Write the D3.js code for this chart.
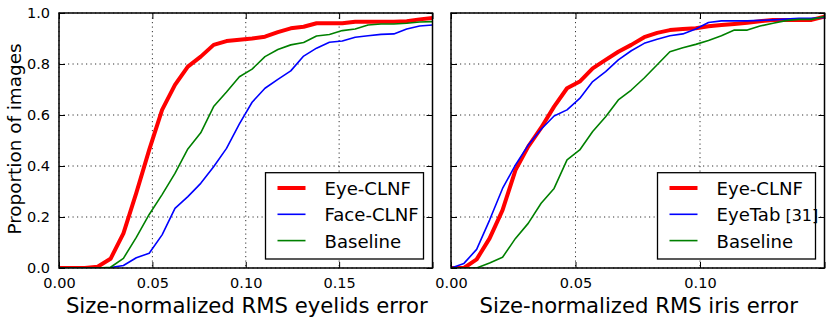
<!DOCTYPE html>
<html><head><meta charset="utf-8">
<script src="https://cdn.jsdelivr.net/npm/d3@7/dist/d3.min.js"></script>
<style>body{margin:0;background:#fff}svg{display:block}text{font-family:"DejaVu Sans",sans-serif}</style>
</head><body>
<svg id="c" width="830" height="323"></svg>
<script>
const yTicks = [0, 0.2, 0.4, 0.6, 0.8, 1.0];
const yTickLabels = ["0.0", "0.2", "0.4", "0.6", "0.8", "1.0"];

// Left panel: eyelids
const eyelidTicks = [0, 0.05, 0.10, 0.15, 0.20];
const eyelidTickLabels = ["0.00", "0.05", "0.10", "0.15", ""];
const eyelidX = [0, 0.0069, 0.0138, 0.0207, 0.0276, 0.0345, 0.0414, 0.0483, 0.0552, 0.0621, 0.0690, 0.0759, 0.0828, 0.0897, 0.0966, 0.1034, 0.1103, 0.1172, 0.1241, 0.1310, 0.1379, 0.1448, 0.1517, 0.1586, 0.1655, 0.1724, 0.1793, 0.1862, 0.1931, 0.2000];
const eyelidEyeCLNF = [0, 0, 0, 0.005, 0.036, 0.136, 0.295, 0.463, 0.62, 0.718, 0.79, 0.829, 0.875, 0.89, 0.895, 0.9, 0.907, 0.925, 0.94, 0.946, 0.96, 0.96, 0.96, 0.966, 0.966, 0.966, 0.966, 0.968, 0.975, 0.98];
const eyelidFaceCLNF = [0, 0, 0, 0, 0.002, 0.01, 0.04, 0.058, 0.13, 0.234, 0.28, 0.332, 0.397, 0.469, 0.565, 0.65, 0.705, 0.74, 0.773, 0.831, 0.862, 0.885, 0.89, 0.905, 0.911, 0.916, 0.918, 0.937, 0.949, 0.953];
const eyelidBaseline = [0, 0, 0, 0, 0.003, 0.038, 0.12, 0.21, 0.288, 0.371, 0.467, 0.53, 0.633, 0.69, 0.75, 0.78, 0.829, 0.857, 0.875, 0.884, 0.91, 0.916, 0.931, 0.937, 0.953, 0.957, 0.957, 0.96, 0.965, 0.966];

// Right panel: iris
const irisTicks = [0, 0.05, 0.10, 0.15];
const irisTickLabels = ["0.00", "0.05", "0.10", ""];
const irisX = [0, 0.0052, 0.0103, 0.0155, 0.0207, 0.0259, 0.0310, 0.0362, 0.0414, 0.0466, 0.0517, 0.0569, 0.0621, 0.0672, 0.0724, 0.0776, 0.0828, 0.0879, 0.0931, 0.0983, 0.1034, 0.1086, 0.1138, 0.1190, 0.1241, 0.1293, 0.1345, 0.1397, 0.1448, 0.1500];
const irisEyeCLNF = [0, 0, 0.034, 0.116, 0.227, 0.384, 0.476, 0.55, 0.633, 0.705, 0.731, 0.783, 0.816, 0.848, 0.875, 0.905, 0.922, 0.933, 0.937, 0.94, 0.948, 0.953, 0.957, 0.962, 0.968, 0.973, 0.973, 0.973, 0.973, 0.986];
const irisEyeTab = [0, 0.018, 0.073, 0.188, 0.312, 0.404, 0.482, 0.544, 0.596, 0.62, 0.665, 0.731, 0.77, 0.816, 0.852, 0.881, 0.897, 0.911, 0.918, 0.937, 0.963, 0.969, 0.969, 0.969, 0.971, 0.973, 0.976, 0.979, 0.979, 0.983];
const irisBaseline = [0, 0, 0, 0.02, 0.042, 0.116, 0.175, 0.254, 0.312, 0.424, 0.463, 0.535, 0.593, 0.659, 0.698, 0.745, 0.797, 0.848, 0.864, 0.877, 0.892, 0.911, 0.933, 0.933, 0.949, 0.96, 0.97, 0.975, 0.975, 0.986];

const svg = d3.select("#c");
const plotTop = 13, plotBottom = 268;

const panels = [
  {x0: 59, x1: 432.5, domain: [0, 0.2], ticks: eyelidTicks, labels: eyelidTickLabels, xs: eyelidX,
   title: "Size-normalized RMS eyelids error", showY: true,
   series: [
     {name: "Eye-CLNF", values: eyelidEyeCLNF, color: "#ff0000", width: 4},
     {name: "Face-CLNF", values: eyelidFaceCLNF, color: "#0000ff", width: 1.6},
     {name: "Baseline", values: eyelidBaseline, color: "#008000", width: 1.6}]},
  {x0: 451, x1: 824.5, domain: [0, 0.15], ticks: irisTicks, labels: irisTickLabels, xs: irisX,
   title: "Size-normalized RMS iris error", showY: false,
   series: [
     {name: "Eye-CLNF", values: irisEyeCLNF, color: "#ff0000", width: 4},
     {name: "EyeTab", ref: "[31]", values: irisEyeTab, color: "#0000ff", width: 1.6},
     {name: "Baseline", values: irisBaseline, color: "#008000", width: 1.6}]}
];

const y = d3.scaleLinear().domain([0, 1]).range([plotBottom, plotTop]);

panels.forEach((p, pi) => {
  const x = d3.scaleLinear().domain(p.domain).range([p.x0, p.x1]);
  const g = svg.append("g");
  const clipId = "clip" + pi;
  svg.append("clipPath").attr("id", clipId).append("rect")
    .attr("x", p.x0).attr("y", plotTop).attr("width", p.x1 - p.x0).attr("height", plotBottom - plotTop);

  // grid
  const grid = g.append("g").attr("stroke", "#333").attr("stroke-width", 1).attr("stroke-dasharray", "1.2,3.3");
  p.ticks.forEach(t => {
    grid.append("line").attr("x1", x(t)).attr("x2", x(t)).attr("y1", plotTop).attr("y2", plotBottom);
  });
  yTicks.forEach(t => {
    grid.append("line").attr("x1", p.x0).attr("x2", p.x1).attr("y1", y(t)).attr("y2", y(t));
  });

  // lines
  const line = d3.line().x((d, i) => x(p.xs[i])).y(d => y(d));
  const lg = g.append("g").attr("clip-path", `url(#${clipId})`);
  p.series.forEach(s => {
    lg.append("path").attr("d", line(s.values)).attr("fill", "none")
      .attr("stroke", s.color).attr("stroke-width", s.width).attr("stroke-linejoin", "round");
  });

  // axes with inward ticks
  const axB = d3.axisBottom(x).tickValues(p.ticks).tickSize(-6).tickPadding(10).tickFormat((d, i) => p.labels[i]);
  const axT = d3.axisTop(x).tickValues(p.ticks).tickSize(-6).tickFormat("");
  const axL = d3.axisLeft(y).tickValues(yTicks).tickSize(-6).tickPadding(9).tickFormat((d, i) => p.showY ? yTickLabels[i] : "");
  const axR = d3.axisRight(y).tickValues(yTicks).tickSize(-6).tickFormat("");
  const styleAxis = sel => {
    sel.select(".domain").remove();
    sel.selectAll(".tick line").attr("stroke", "#000").attr("stroke-width", 1);
    sel.selectAll(".tick text").attr("fill", "#000").attr("font-size", 14.5).attr("font-family", "DejaVu Sans");
  };
  g.append("g").attr("transform", `translate(0,${plotBottom})`).call(axB).call(styleAxis);
  g.append("g").attr("transform", `translate(0,${plotTop})`).call(axT).call(styleAxis);
  g.append("g").attr("transform", `translate(${p.x0},0)`).call(axL).call(styleAxis);
  g.append("g").attr("transform", `translate(${p.x1},0)`).call(axR).call(styleAxis);

  // frame
  g.append("rect").attr("x", p.x0).attr("y", plotTop).attr("width", p.x1 - p.x0).attr("height", plotBottom - plotTop)
    .attr("fill", "none").attr("stroke", "#000").attr("stroke-width", 1.5);

  // x title
  g.append("text").attr("x", (p.x0 + p.x1) / 2 + 1).attr("y", 313).attr("text-anchor", "middle")
    .attr("font-size", 21.2).text(p.title);

  // legend
  const lx1 = p.x1 - 9, lx0 = lx1 - 158, ly0 = 172.7, ly1 = 259;
  const leg = g.append("g");
  leg.append("rect").attr("x", lx0).attr("y", ly0).attr("width", lx1 - lx0).attr("height", ly1 - ly0)
    .attr("fill", "#fff").attr("stroke", "#000").attr("stroke-width", 1.3);
  p.series.forEach((s, i) => {
    const yy = 188 + i * 26.3;
    leg.append("line").attr("x1", lx0 + 12).attr("x2", lx0 + 40).attr("y1", yy).attr("y2", yy)
      .attr("stroke", s.color).attr("stroke-width", s.width);
    const t = leg.append("text").attr("x", lx0 + 59).attr("y", yy + 7).attr("font-size", 18.1).text(s.name);
    if (s.ref) t.append("tspan").attr("font-size", 16).attr("dx", 5).text(s.ref);
  });
});

// y title
svg.append("text").attr("transform", `translate(21,139) rotate(-90)`)
  .attr("text-anchor", "middle").attr("font-size", 18.4).text("Proportion of images");
</script>
</body></html>
